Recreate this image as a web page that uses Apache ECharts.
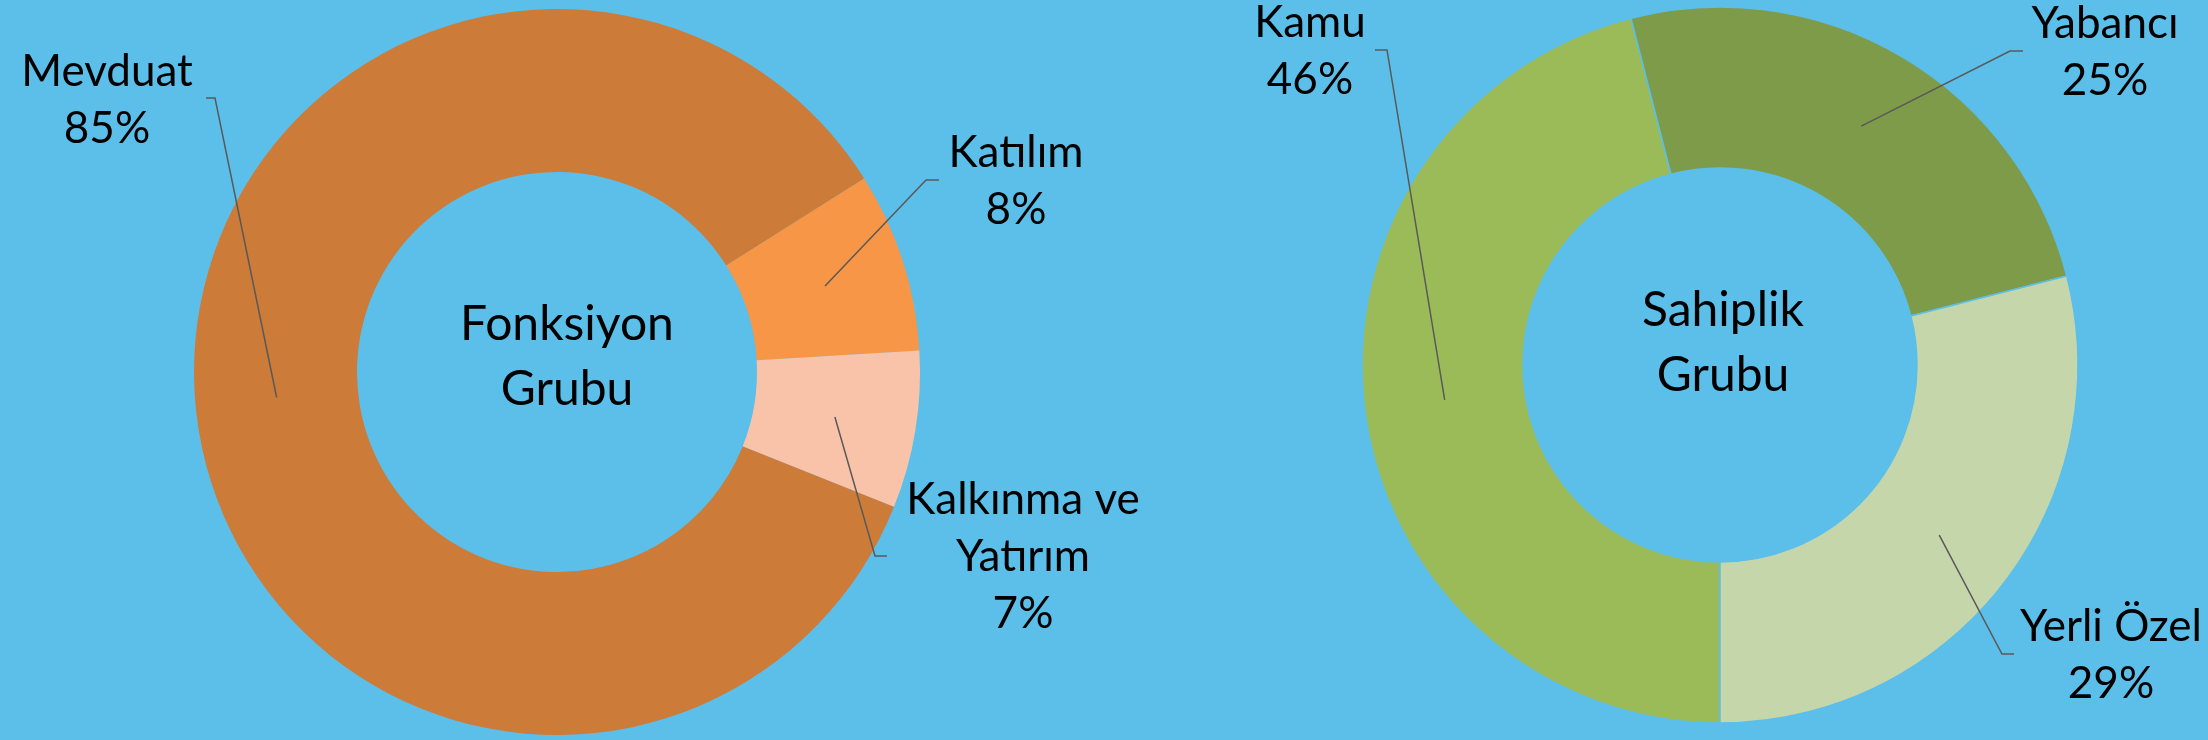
<!DOCTYPE html>
<html>
<head>
<meta charset="utf-8">
<script src="https://cdn.jsdelivr.net/npm/echarts@6/dist/echarts.min.js"></script>
<style>
html,body{margin:0;padding:0;background:#5BBFEA;}
#main{width:2208px;height:740px;}
</style>
</head>
<body>
<div id="main"></div>
<script>
// ---- data ----
const fonksiyonCategories = ['Mevduat', 'Katılım', 'Kalkınma ve\nYatırım'];
const fonksiyonValues = [85, 8, 7];
const sahiplikCategories = ['Kamu', 'Yabancı', 'Yerli Özel'];
const sahiplikValues = [46, 25, 29];
const groupTitles = ['Fonksiyon\nGrubu', 'Sahiplik\nGrubu'];

// ---- styles / layout ----
const BG = '#5BBFEA';
const FONT = 'Lato, "Open Sans", sans-serif';
const FS = 44, LH = 57;
const TFS = 48, TLH = 65;
const leftColors = ['#CD7B38', '#F79646', '#F9C3A9'];
const rightColors = ['#9BBB59', '#7E9B4A', '#C6D6AB'];
// label anchor layout: label centre (lx,ly), elbow (ex,ey), tick end x (tx)
const leftAnchors = [
  {lx: 107, ly: 100, ex: 215, ey: 98, tx: 206},
  {lx: 1016, ly: 181, ex: 926, ey: 180, tx: 939},
  {lx: 1023, ly: 557, ex: 875, ey: 556, tx: 887}
];
const rightAnchors = [
  {lx: 1310, ly: 51, ex: 1387, ey: 50, tx: 1375},
  {lx: 2105, ly: 52, ex: 2010, ey: 51, tx: 2023},
  {lx: 2111, ly: 655, ex: 2002, ey: 654, tx: 2014}
];
const leftPie = {center: [557, 372], radius: [200, 363], startAngle: -21.8};
const rightPie = {center: [1720, 365], radius: [197, 358], startAngle: -90};

const chart = echarts.init(document.getElementById('main'));

function layoutFn(seriesIndex, anchors) {
  return function (params) {
    const a = anchors[params.dataIndex];
    let sx = a.ex, sy = a.ey;
    try {
      const data = chart.getModel().getSeriesByIndex(seriesIndex).getData();
      const L = data.getItemLayout(params.dataIndex);
      const mid = (L.startAngle + L.endAngle) / 2;
      const rm = (L.r + L.r0) / 2;
      sx = L.cx + rm * Math.cos(mid);
      sy = L.cy + rm * Math.sin(mid);
    } catch (e) {}
    return {
      x: a.lx, y: a.ly, align: 'center', verticalAlign: 'middle',
      labelLinePoints: [[sx, sy], [a.ex, a.ey], [a.tx, a.ey]]
    };
  };
}

function makeData(cats, vals, colors) {
  return cats.map((c, i) => ({name: c, value: vals[i], itemStyle: {color: colors ? colors[i] : 'rgba(0,0,0,0)'}}));
}

const labelCommon = {
  show: true,
  position: 'outside',
  formatter: p => p.name + '\n' + Math.round(p.percent) + '%',
  fontFamily: FONT, fontSize: FS, lineHeight: LH, color: '#000', align: 'center'
};
const labelLineCommon = {show: true, lineStyle: {color: '#595959', width: 1.5}, smooth: false};

function sectorSeries(geom, cats, vals, colors, border) {
  return Object.assign({
    type: 'pie', clockwise: true, z: 2,
    label: {show: false}, labelLine: {show: false},
    itemStyle: {borderColor: border.color, borderWidth: border.width},
    emphasis: {disabled: true}, silent: true,
    data: makeData(cats, vals, colors)
  }, geom);
}
function labelSeries(idx, geom, cats, vals, anchors) {
  return Object.assign({
    type: 'pie', clockwise: true, z: 5,
    avoidLabelOverlap: false,
    label: labelCommon, labelLine: labelLineCommon,
    labelLayout: layoutFn(idx, anchors),
    emphasis: {disabled: true}, silent: true,
    data: makeData(cats, vals, null)
  }, geom);
}

const option = {
  backgroundColor: BG,
  animation: false,
  graphic: [
    {type: 'text', x: 567, y: 357, z: 10, style: {text: groupTitles[0], align: 'center', verticalAlign: 'middle', font: TFS + 'px ' + FONT, lineHeight: TLH, fill: '#000'}},
    {type: 'text', x: 1723, y: 343, z: 10, style: {text: groupTitles[1], align: 'center', verticalAlign: 'middle', font: TFS + 'px ' + FONT, lineHeight: TLH, fill: '#000'}}
  ],
  series: [
    sectorSeries(leftPie, fonksiyonCategories, fonksiyonValues, leftColors, {color: BG, width: 0}),
    sectorSeries(rightPie, sahiplikCategories, sahiplikValues, rightColors, {color: BG, width: 1.5}),
    labelSeries(2, leftPie, fonksiyonCategories, fonksiyonValues, leftAnchors),
    labelSeries(3, rightPie, sahiplikCategories, sahiplikValues, rightAnchors)
  ]
};
chart.setOption(option);
</script>
</body>
</html>
